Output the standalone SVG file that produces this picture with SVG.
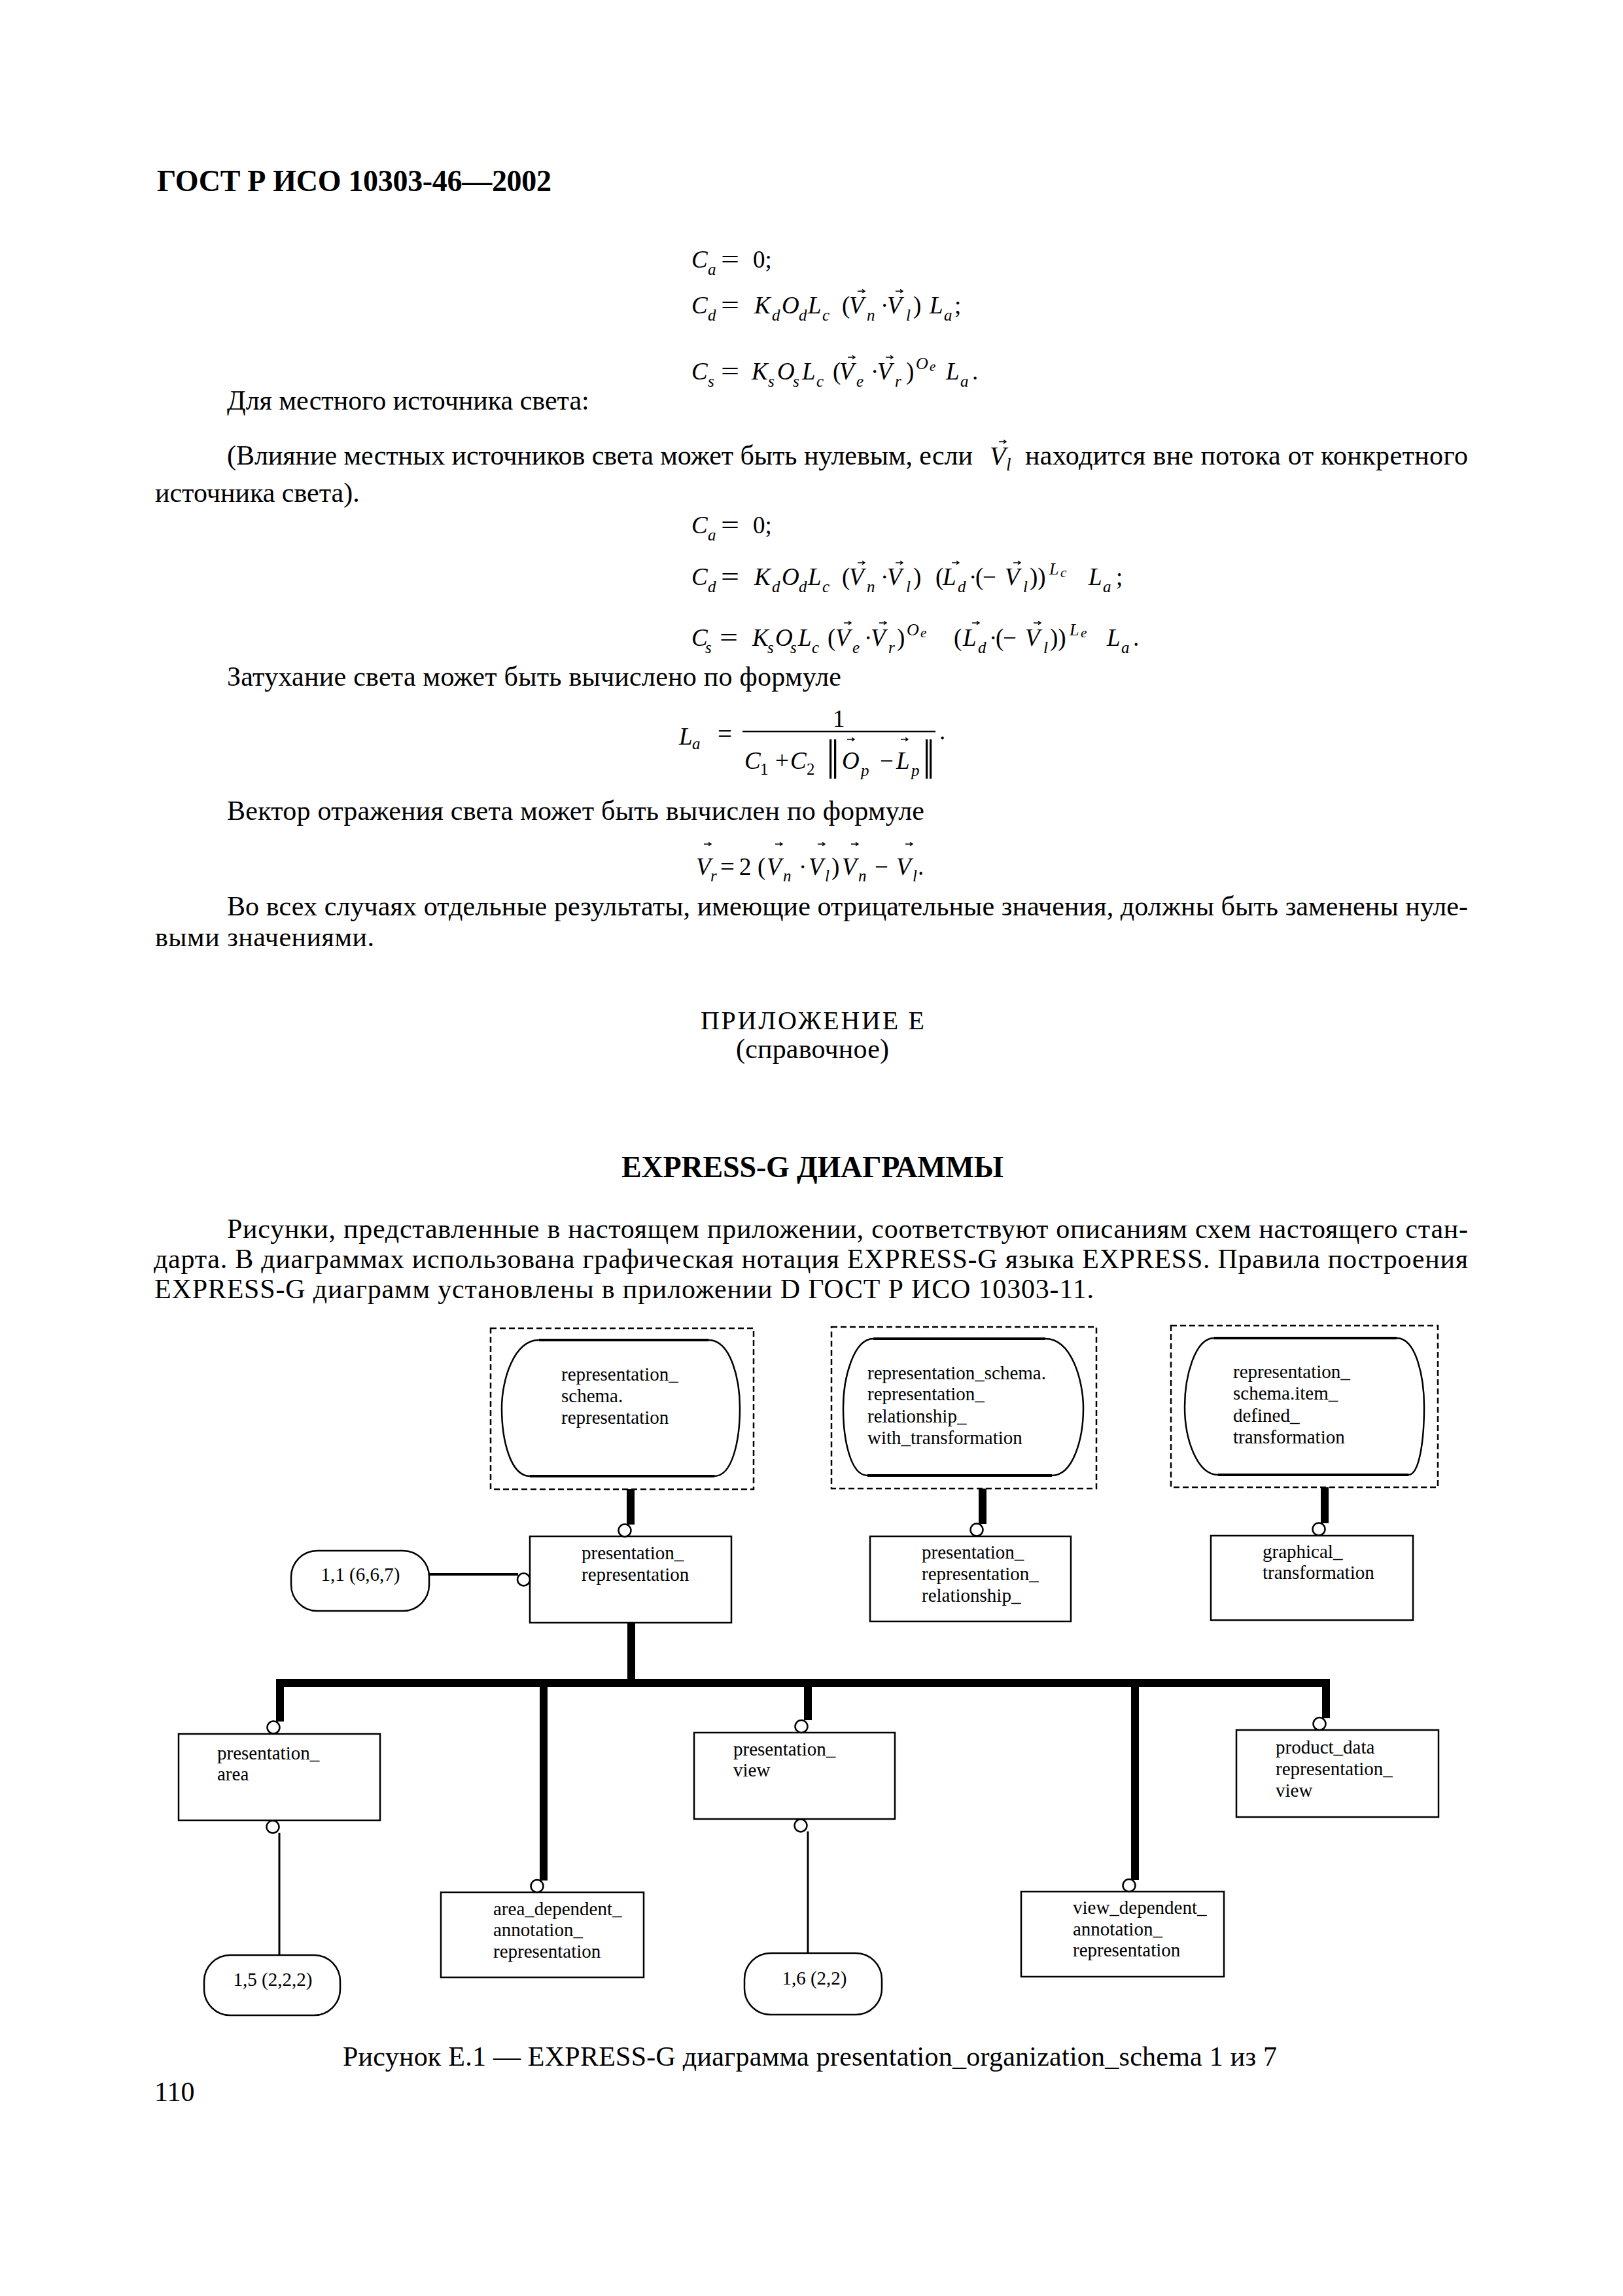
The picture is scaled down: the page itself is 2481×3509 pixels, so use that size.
<svg xmlns="http://www.w3.org/2000/svg" xmlns:xlink="http://www.w3.org/1999/xlink" width="2481" height="3509" viewBox="0 0 2481 3509">
<style>
text{font-family:"Liberation Serif","Times New Roman",serif;fill:#000}
.t{font-size:42px}
.b{font-size:46px;font-weight:bold}
.fi{font-size:37px;font-style:italic}
.fu{font-size:37px}
.fs{font-size:25px;font-style:italic}
.fsu{font-size:25px}
.sup{font-size:26px;font-style:italic}
.sup2{font-size:21px;font-style:italic}
.nb{font-size:66px}
.lbl{font-size:29px}
.box{fill:#fff;stroke:#000;stroke-width:2.5}
.edge{fill:none;stroke:#000;stroke-width:4}
.dash{fill:none;stroke:#000;stroke-width:2.5;stroke-dasharray:9 5}
.thick{fill:none;stroke:#000;stroke-width:12;stroke-linejoin:miter;stroke-linecap:butt}
.thin{fill:none;stroke:#000;stroke-width:3}
.circ{fill:#fff;stroke:#000;stroke-width:2.5}
</style>
<defs>
<g id="vec"><path d="M0,0 H10 M7,-2.6 L11,0 L7,2.6" fill="none" stroke="#000" stroke-width="1.4"/></g>
</defs>
<rect x="0" y="0" width="2481" height="3509" fill="#fff"/>

<g id="page-text">
<text class="b" x="240" y="292" textLength="603">ГОСТ Р ИСО 10303-46—2002</text>
<text class="t" x="347" y="626">Для местного источника света:</text>
<text class="t" x="347" y="710" textLength="1140">(Влияние местных источников света может быть нулевым, если</text>
<text style="font-size:40px;font-style:italic" x="1513" y="710">V</text>
<text style="font-size:27px;font-style:italic" x="1538" y="719">l</text>
<use xlink:href="#vec" href="#vec" x="1527" y="675"/>
<text class="t" x="1567" y="710" textLength="677">находится вне потока от конкретного</text>
<text class="t" x="237" y="767">источника света).</text>
<text class="t" x="347" y="1048" textLength="939">Затухание света может быть вычислено по формуле</text>
<text class="t" x="347" y="1253" textLength="1066">Вектор отражения света может быть вычислен по формуле</text>
<text class="t" x="347" y="1399" textLength="1897">Во всех случаях отдельные результаты, имеющие отрицательные значения, должны быть заменены нуле-</text>
<text class="t" x="237" y="1446" textLength="335">выми значениями.</text>
<text class="t" style="font-size:40px" x="1071" y="1573" textLength="342">ПРИЛОЖЕНИЕ Е</text>
<text class="t" x="1125" y="1617" textLength="234">(справочное)</text>
<text class="b" x="950" y="1799" textLength="584">EXPRESS-G ДИАГРАММЫ</text>
<text class="t" x="347" y="1892" textLength="1897">Рисунки, представленные в настоящем приложении, соответствуют описаниям схем настоящего стан-</text>
<text class="t" x="235" y="1938" textLength="2009">дарта. В диаграммах использована графическая нотация EXPRESS-G языка EXPRESS. Правила построения</text>
<text class="t" x="236" y="1984" textLength="1436">EXPRESS-G диаграмм установлены в приложении D ГОСТ Р ИСО 10303-11.</text>
<text class="t" x="524" y="3157" textLength="1428">Рисунок Е.1 — EXPRESS-G диаграмма presentation_organization_schema 1 из 7</text>
<text class="t" x="236" y="3211">110</text>
</g>

<g id="formula-1">
<text class="fi" x="1057" y="409">C</text><text class="fs" x="1082" y="420">a</text>
<text class="fu" x="1102" y="409" textLength="28" lengthAdjust="spacingAndGlyphs">=</text>
<text class="fu" x="1151" y="409">0;</text>
</g>
<g id="formula-2">
<text class="fi" x="1057" y="479">C</text><text class="fs" x="1082" y="490">d</text>
<text class="fu" x="1102" y="479" textLength="28" lengthAdjust="spacingAndGlyphs">=</text>
<text class="fi" x="1153" y="479">K</text><text class="fs" x="1180" y="490">d</text>
<text class="fi" x="1195" y="479">O</text><text class="fs" x="1221" y="490">d</text>
<text class="fi" x="1235" y="479">L</text><text class="fs" x="1257" y="490">c</text>
<text class="fu" x="1287" y="479">(</text>
<text class="fi" x="1298" y="479">V</text><text class="fs" x="1325" y="490">n</text>
<text class="fu" x="1346" y="479">·</text>
<text class="fi" x="1356" y="479">V</text><text class="fs" x="1385" y="490">l</text>
<text class="fu" x="1396" y="479">)</text>
<text class="fi" x="1421" y="479">L</text><text class="fs" x="1443" y="490">a</text>
<text class="fu" x="1459" y="479">;</text>
<use xlink:href="#vec" href="#vec" x="1311" y="445"/>
<use xlink:href="#vec" href="#vec" x="1369" y="445"/>
</g>
<g id="formula-3">
<text class="fi" x="1057" y="580">C</text><text class="fs" x="1082" y="591">s</text>
<text class="fu" x="1102" y="580" textLength="28" lengthAdjust="spacingAndGlyphs">=</text>
<text class="fi" x="1149" y="580">K</text><text class="fs" x="1174" y="591">s</text>
<text class="fi" x="1188" y="580">O</text><text class="fs" x="1212" y="591">s</text>
<text class="fi" x="1226" y="580">L</text><text class="fs" x="1248" y="591">c</text>
<text class="fu" x="1273" y="580">(</text>
<text class="fi" x="1283" y="580">V</text><text class="fs" x="1309" y="591">e</text>
<text class="fu" x="1331" y="580">·</text>
<text class="fi" x="1341" y="580">V</text><text class="fs" x="1368" y="591">r</text>
<text class="fu" x="1385" y="580">)</text>
<text class="sup" x="1400" y="564">O</text><text class="sup2" x="1421" y="567">e</text>
<text class="fi" x="1446" y="580">L</text><text class="fs" x="1468" y="591">a</text>
<text class="fu" x="1486" y="580">.</text>
<use xlink:href="#vec" href="#vec" x="1296" y="546"/>
<use xlink:href="#vec" href="#vec" x="1354" y="546"/>
</g>
<g id="formula-4">
<text class="fi" x="1057" y="815">C</text><text class="fs" x="1082" y="826">a</text>
<text class="fu" x="1102" y="815" textLength="28" lengthAdjust="spacingAndGlyphs">=</text>
<text class="fu" x="1151" y="815">0;</text>
</g>
<g id="formula-5">
<text class="fi" x="1057" y="894">C</text><text class="fs" x="1082" y="905">d</text>
<text class="fu" x="1102" y="894" textLength="28" lengthAdjust="spacingAndGlyphs">=</text>
<text class="fi" x="1153" y="894">K</text><text class="fs" x="1180" y="905">d</text>
<text class="fi" x="1195" y="894">O</text><text class="fs" x="1221" y="905">d</text>
<text class="fi" x="1235" y="894">L</text><text class="fs" x="1257" y="905">c</text>
<text class="fu" x="1287" y="894">(</text>
<text class="fi" x="1298" y="894">V</text><text class="fs" x="1325" y="905">n</text>
<text class="fu" x="1346" y="894">·</text>
<text class="fi" x="1356" y="894">V</text><text class="fs" x="1385" y="905">l</text>
<text class="fu" x="1396" y="894">)</text>
<text class="fu" x="1430" y="894">(</text>
<text class="fi" x="1441" y="894">L</text><text class="fs" x="1464" y="905">d</text>
<text class="fu" x="1481" y="894">·</text>
<text class="fu" x="1491" y="894">(</text>
<text class="fu" x="1502" y="894">−</text>
<text class="fi" x="1536" y="894">V</text><text class="fs" x="1564" y="905">l</text>
<text class="fu" x="1574" y="894">))</text>
<text class="sup" x="1604" y="878">L</text><text class="sup2" x="1621" y="882">c</text>
<text class="fi" x="1664" y="894">L</text><text class="fs" x="1686" y="905">a</text>
<text class="fu" x="1706" y="894">;</text>
<use xlink:href="#vec" href="#vec" x="1311" y="860"/>
<use xlink:href="#vec" href="#vec" x="1369" y="860"/>
<use xlink:href="#vec" href="#vec" x="1455" y="860"/>
<use xlink:href="#vec" href="#vec" x="1549" y="860"/>
</g>
<g id="formula-6">
<text class="fi" x="1057" y="987">C</text><text class="fs" x="1078" y="998">s</text>
<text class="fu" x="1100" y="987" textLength="28" lengthAdjust="spacingAndGlyphs">=</text>
<text class="fi" x="1150" y="987">K</text><text class="fs" x="1173" y="998">s</text>
<text class="fi" x="1185" y="987">O</text><text class="fs" x="1208" y="998">s</text>
<text class="fi" x="1220" y="987">L</text><text class="fs" x="1241" y="998">c</text>
<text class="fu" x="1265" y="987">(</text>
<text class="fi" x="1277" y="987">V</text><text class="fs" x="1303" y="998">e</text>
<text class="fu" x="1321" y="987">·</text>
<text class="fi" x="1331" y="987">V</text><text class="fs" x="1358" y="998">r</text>
<text class="fu" x="1371" y="987">)</text>
<text class="sup" x="1386" y="971">O</text><text class="sup2" x="1407" y="974">e</text>
<text class="fu" x="1458" y="987">(</text>
<text class="fi" x="1472" y="987">L</text><text class="fs" x="1495" y="998">d</text>
<text class="fu" x="1512" y="987">·</text>
<text class="fu" x="1522" y="987">(</text>
<text class="fu" x="1533" y="987">−</text>
<text class="fi" x="1567" y="987">V</text><text class="fs" x="1595" y="998">l</text>
<text class="fu" x="1605" y="987">))</text>
<text class="sup" x="1635" y="971">L</text><text class="sup2" x="1652" y="974">e</text>
<text class="fi" x="1692" y="987">L</text><text class="fs" x="1714" y="998">a</text>
<text class="fu" x="1732" y="987">.</text>
<use xlink:href="#vec" href="#vec" x="1290" y="952"/>
<use xlink:href="#vec" href="#vec" x="1344" y="952"/>
<use xlink:href="#vec" href="#vec" x="1486" y="952"/>
<use xlink:href="#vec" href="#vec" x="1580" y="952"/>
</g>
<g id="formula-La">
<text class="fi" x="1038" y="1138">L</text><text class="fs" x="1058" y="1145">a</text>
<text class="fu" x="1097" y="1134" textLength="22" lengthAdjust="spacingAndGlyphs">=</text>
<text class="fu" x="1273" y="1111">1</text>
<line x1="1135" y1="1118" x2="1430" y2="1118" stroke="#000" stroke-width="2.5"/>
<text class="fi" x="1138" y="1175">C</text><text class="fsu" x="1162" y="1184">1</text>
<text class="fu" x="1185" y="1175">+</text>
<text class="fi" x="1208" y="1175">C</text><text class="fsu" x="1233" y="1184">2</text>
<text class="nb" x="1263" y="1176">|</text><text class="nb" x="1270" y="1176">|</text>
<text class="fi" x="1287" y="1175">O</text><text class="fs" x="1316" y="1186">p</text>
<text class="fu" x="1345" y="1175">−</text>
<text class="fi" x="1370" y="1175">L</text><text class="fs" x="1393" y="1186">p</text>
<text class="nb" x="1410" y="1176">|</text><text class="nb" x="1416" y="1176">|</text>
<text class="fu" x="1436" y="1130">.</text>
<use xlink:href="#vec" href="#vec" x="1295" y="1130"/>
<use xlink:href="#vec" href="#vec" x="1377" y="1130"/>
</g>
<g id="formula-Vr">
<text class="fi" x="1064" y="1337">V</text><text class="fs" x="1086" y="1347">r</text>
<text class="fu" x="1101" y="1337" textLength="22" lengthAdjust="spacingAndGlyphs">=</text>
<text class="fu" x="1130" y="1337">2</text>
<text class="fu" x="1158" y="1337">(</text>
<text class="fi" x="1172" y="1337">V</text><text class="fs" x="1197" y="1347">n</text>
<text class="fu" x="1221" y="1337">·</text>
<text class="fi" x="1236" y="1337">V</text><text class="fs" x="1261" y="1347">l</text>
<text class="fu" x="1271" y="1337">)</text>
<text class="fi" x="1287" y="1337">V</text><text class="fs" x="1312" y="1347">n</text>
<text class="fu" x="1337" y="1337">−</text>
<text class="fi" x="1370" y="1337">V</text><text class="fs" x="1395" y="1347">l</text>
<text class="fu" x="1403" y="1337">.</text>
<use xlink:href="#vec" href="#vec" x="1076" y="1290"/>
<use xlink:href="#vec" href="#vec" x="1185" y="1290"/>
<use xlink:href="#vec" href="#vec" x="1250" y="1290"/>
<use xlink:href="#vec" href="#vec" x="1301" y="1290"/>
<use xlink:href="#vec" href="#vec" x="1384" y="1290"/>
</g>

<g id="ref-representation">
<rect class="dash" x="750" y="2030" width="402" height="246"/>
<path class="box" d="M824 2048 H1083 C1118 2048 1131 2110 1131 2152 C1131 2200 1120 2256 1092 2256 H810 C780 2256 767 2200 767 2152 C767 2110 785 2048 824 2048 Z"/>
<path class="edge" d="M824 2048 H1083 M810 2256 H1092"/>
<text class="lbl" x="858" y="2110">representation_</text>
<text class="lbl" x="858" y="2143">schema.</text>
<text class="lbl" x="858" y="2176">representation</text>
</g>
<g id="ref-rep-rel-with-transformation">
<rect class="dash" x="1271" y="2028" width="405" height="247"/>
<path class="box" d="M1335 2046 H1598 C1638 2046 1656 2110 1656 2152 C1656 2200 1640 2255 1608 2255 H1326 C1300 2255 1289 2200 1289 2152 C1289 2105 1305 2046 1335 2046 Z"/>
<path class="edge" d="M1335 2046 H1598 M1326 2255 H1608"/>
<text class="lbl" x="1326" y="2108">representation_schema.</text>
<text class="lbl" x="1326" y="2140">representation_</text>
<text class="lbl" x="1326" y="2174">relationship_</text>
<text class="lbl" x="1326" y="2207">with_transformation</text>
</g>
<g id="ref-item-defined-transformation">
<rect class="dash" x="1790" y="2026" width="408" height="247"/>
<path class="box" d="M1856 2045 H2135 C2165 2045 2177 2105 2177 2150 C2177 2200 2170 2254 2153 2254 H1862 C1830 2254 1811 2200 1811 2150 C1811 2105 1826 2045 1856 2045 Z"/>
<path class="edge" d="M1856 2045 H2135 M1862 2254 H2153"/>
<text class="lbl" x="1885" y="2106">representation_</text>
<text class="lbl" x="1885" y="2139">schema.item_</text>
<text class="lbl" x="1885" y="2173">defined_</text>
<text class="lbl" x="1885" y="2206">transformation</text>
</g>
<g id="presentation-representation">
<rect class="box" x="810" y="2348" width="308" height="132"/>
<text class="lbl" x="889" y="2383">presentation_</text>
<text class="lbl" x="889" y="2416">representation</text>
</g>
<g id="presentation-representation-relationship">
<rect class="box" x="1330" y="2348" width="307" height="130"/>
<text class="lbl" x="1409" y="2382">presentation_</text>
<text class="lbl" x="1409" y="2415">representation_</text>
<text class="lbl" x="1409" y="2448">relationship_</text>
</g>
<g id="graphical-transformation">
<rect class="box" x="1851" y="2347" width="309" height="129"/>
<text class="lbl" x="1930" y="2381">graphical_</text>
<text class="lbl" x="1930" y="2413">transformation</text>
</g>
<g id="page-ref-1-1">
<rect class="box" x="445" y="2370" width="211" height="92" rx="40" ry="40"/>
<text class="lbl" x="551" y="2416" text-anchor="middle">1,1 (6,6,7)</text>
</g>
<g id="presentation-area">
<rect class="box" x="273" y="2650" width="308" height="132"/>
<text class="lbl" x="332" y="2689">presentation_</text>
<text class="lbl" x="332" y="2721">area</text>
</g>
<g id="presentation-view">
<rect class="box" x="1061" y="2648" width="307" height="132"/>
<text class="lbl" x="1121" y="2683">presentation_</text>
<text class="lbl" x="1121" y="2715">view</text>
</g>
<g id="product-data-representation-view">
<rect class="box" x="1890" y="2644" width="309" height="133"/>
<text class="lbl" x="1950" y="2680">product_data</text>
<text class="lbl" x="1950" y="2713">representation_</text>
<text class="lbl" x="1950" y="2746">view</text>
</g>
<g id="area-dependent-annotation-representation">
<rect class="box" x="674" y="2892" width="310" height="130"/>
<text class="lbl" x="754" y="2927">area_dependent_</text>
<text class="lbl" x="754" y="2959">annotation_</text>
<text class="lbl" x="754" y="2992">representation</text>
</g>
<g id="view-dependent-annotation-representation">
<rect class="box" x="1561" y="2891" width="310" height="130"/>
<text class="lbl" x="1640" y="2925">view_dependent_</text>
<text class="lbl" x="1640" y="2958">annotation_</text>
<text class="lbl" x="1640" y="2990">representation</text>
</g>
<g id="page-ref-1-5">
<rect class="box" x="312" y="2988" width="208" height="92" rx="40" ry="40"/>
<text class="lbl" x="417" y="3035" text-anchor="middle">1,5 (2,2,2)</text>
</g>
<g id="page-ref-1-6">
<rect class="box" x="1138" y="2985" width="210" height="94" rx="40" ry="40"/>
<text class="lbl" x="1245" y="3033" text-anchor="middle">1,6 (2,2)</text>
</g>

<g id="connectors">
<path class="thick" d="M964 2276 V2330"/>
<path class="thick" d="M1502 2275 V2329"/>
<path class="thick" d="M2025 2273 V2328"/>
<path class="thick" d="M965 2480 V2572"/>
<path class="thick" d="M428 2631 V2572 H2027 V2626"/>
<path class="thick" d="M831 2572 V2874"/>
<path class="thick" d="M1235 2572 V2629"/>
<path class="thick" d="M1735 2572 V2873"/>
<path class="thin" style="stroke-width:4" d="M656 2406 H792"/>
<path class="thin" d="M427 2801 V2988"/>
<path class="thin" d="M1235 2799 V2985"/>
<circle class="circ" cx="955" cy="2339" r="9.5"/>
<circle class="circ" cx="1493" cy="2338" r="9.5"/>
<circle class="circ" cx="2016" cy="2337" r="9.5"/>
<circle class="circ" cx="800.5" cy="2414" r="9.5"/>
<circle class="circ" cx="418" cy="2640" r="9.5"/>
<circle class="circ" cx="821" cy="2882.5" r="9.5"/>
<circle class="circ" cx="1225" cy="2638.5" r="9.5"/>
<circle class="circ" cx="1726" cy="2881.5" r="9.5"/>
<circle class="circ" cx="2017" cy="2634.5" r="9.5"/>
<circle class="circ" cx="417" cy="2792" r="9.5"/>
<circle class="circ" cx="1224" cy="2790" r="9.5"/>
</g>
</svg>
